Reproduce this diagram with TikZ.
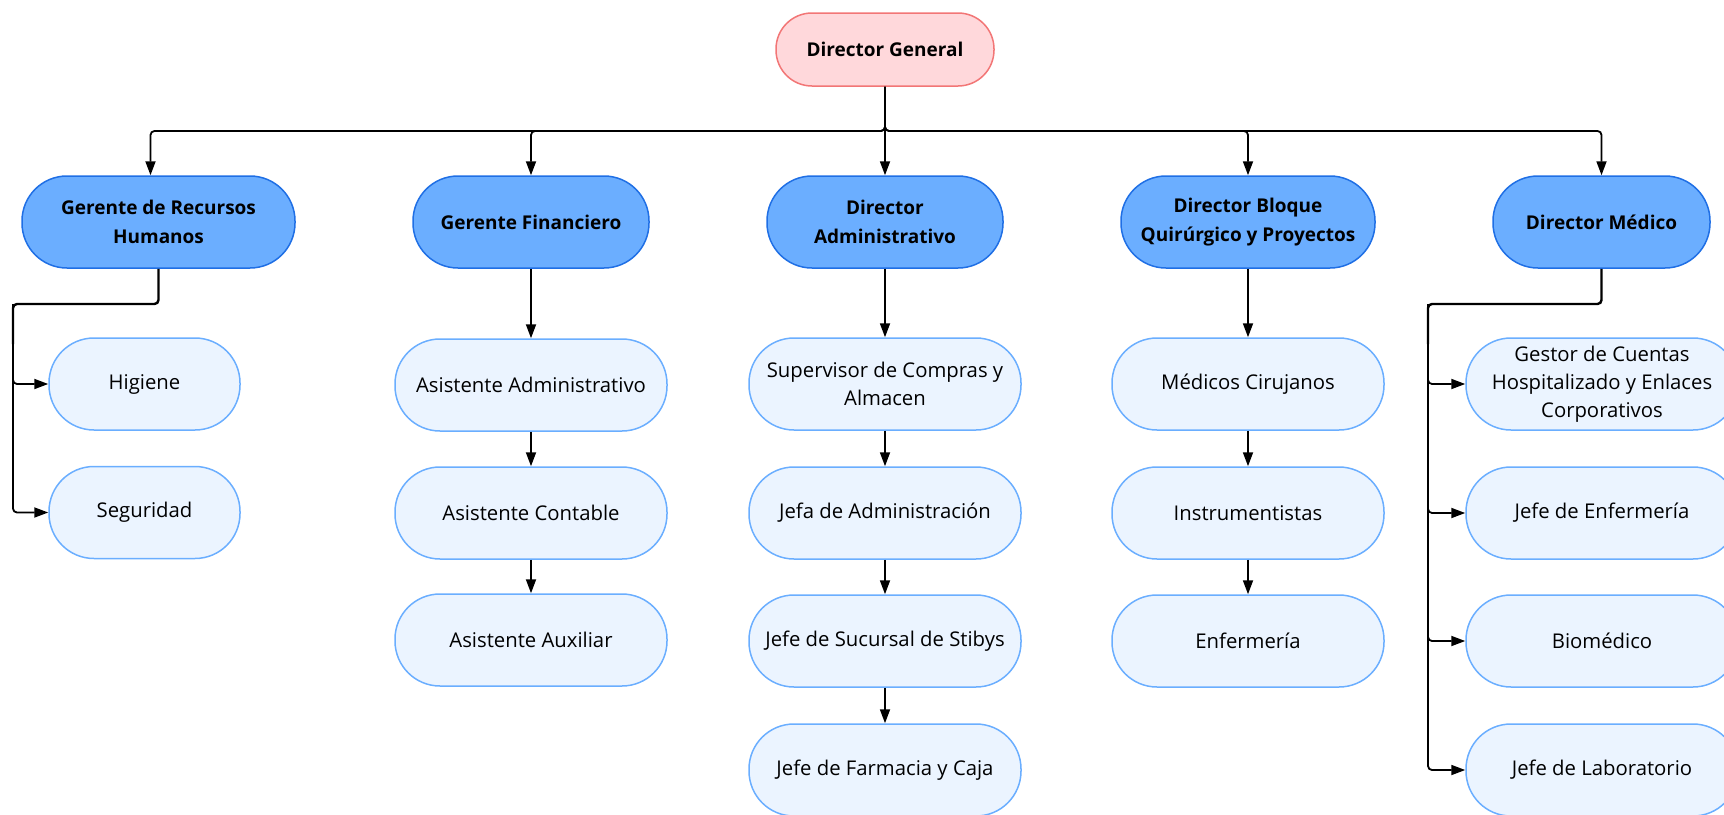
\documentclass[tikz,border=0pt]{standalone}
\usepackage{fontspec}
\setmainfont{Open Sans}
\usepackage{tikz}
\usetikzlibrary{arrows.meta}
\usetikzlibrary{calc}

\definecolor{rosaborde}{HTML}{F27676}
\definecolor{rosafondo}{HTML}{FFD8DB}
\definecolor{azulborde}{HTML}{1F6FE5}
\definecolor{azulfondo}{HTML}{6BAEFF}
\definecolor{celesteborde}{HTML}{6AAEFF}
\definecolor{celestefondo}{HTML}{EBF4FF}

\begin{document}
\begin{tikzpicture}[x=1pt,y=-1pt,
  director/.style={draw=rosaborde,fill=rosafondo,line width=1.5pt,rounded corners=36pt,
     minimum width=218pt,minimum height=73pt,inner sep=0pt,align=center,
     font=\fontsize{19}{29}\selectfont\bfseries},
  gerente/.style={draw=azulborde,fill=azulfondo,line width=1.5pt,rounded corners=45pt,
     minimum height=92pt,inner sep=0pt,align=center,
     font=\fontsize{19}{29}\selectfont\bfseries},
  puesto/.style={draw=celesteborde,fill=celestefondo,line width=1.5pt,rounded corners=45pt,
     minimum width=272pt,minimum height=92pt,inner sep=0pt,align=center,
     font=\fontsize{20.3}{28}\selectfont},
  link/.style={line width=1.8pt,rounded corners=4pt,-{Triangle[length=14pt,width=10pt]}}]
\useasboundingbox (0,0) rectangle (1724,814);

%% director general
\node[director] (dg) at (885,49.5) {Director General};

%% gerencias
\node[gerente,minimum width=273pt] (hr) at (158.5,222) {Gerente de Recursos\\Humanos};
\node[gerente,minimum width=236pt] (gf) at (531,222) {Gerente Financiero};
\node[gerente,minimum width=236pt] (da) at (885,222) {Director\\Administrativo};
\node[gerente,minimum width=254pt] (db) at (1248,222) {Director Bloque\\Quirúrgico y Proyectos};
\node[gerente,minimum width=217pt] (dm) at (1601.5,222) {Director Médico};

%% recursos humanos
\node[puesto,minimum width=191pt] (hig) at (144.5,384) {Higiene};
\node[puesto,minimum width=191pt] (seg) at (144.5,512.5) {Seguridad};

%% financiero
\node[puesto] (aadm) at (531,385) {Asistente Administrativo};
\node[puesto] (acon) at (531,513) {Asistente Contable};
\node[puesto] (aaux) at (531,640) {Asistente Auxiliar};

%% administrativo
\node[puesto] (sup) at (885,384) {Supervisor de Compras y\\Almacen};
\node[puesto] (jadm) at (885,513) {Jefa de Administración};
\node[puesto] (jsuc) at (885,641) {Jefe de Sucursal de Stibys};
\node[puesto] (jfar) at (885,770) {Jefe de Farmacia y Caja};

%% bloque quirurgico
\node[puesto] (mcir) at (1248,384) {Médicos Cirujanos};
\node[puesto] (inst) at (1248,513) {Instrumentistas};
\node[puesto] (enf) at (1248,641) {Enfermería};

%% medico
\node[puesto] (gcta) at (1602,384) {Gestor de Cuentas\\Hospitalizado y Enlaces\\Corporativos};
\node[puesto] (jenf) at (1602,513) {Jefe de Enfermería};
\node[puesto] (bio) at (1602,641) {Biomédico};
\node[puesto] (jlab) at (1602,770) {Jefe de Laboratorio};

\coordinate (bus) at (885,131);
\coordinate (hrl) at (13,304);
\coordinate (dml) at (1428,304);

%% conexiones
\draw[link] (dg.south) |- ([xshift=-8pt]hr.north |- bus) -- ([xshift=-8pt]hr.north);
\foreach \n in {gf,db,dm}
    \draw[link] (dg.south) |- (\n.north |- bus) -- (\n.north);
\draw[link] (dg.south) -- (da.north);

\draw[link,-,line width=2.4pt] (hr.south) |- (hrl) -- ($(hrl)!0.5!(hrl |- hig.west)$);
\foreach \n in {hig,seg}
    \draw[link] (hrl) |- (\n.west);
\draw[link,-,line width=2.4pt] (dm.south) |- (dml) -- ($(dml)!0.5!(dml |- gcta.west)$);
\foreach \n in {gcta,jenf,bio,jlab}
    \draw[link] (dml) |- (\n.west);

\draw[link] (gf) -- (aadm);
\draw[link] (aadm) -- (acon);
\draw[link] (acon) -- (aaux);
\draw[link] (da) -- (sup);
\draw[link] (sup) -- (jadm);
\draw[link] (jadm) -- (jsuc);
\draw[link] (jsuc) -- (jfar);
\draw[link] (db) -- (mcir);
\draw[link] (mcir) -- (inst);
\draw[link] (inst) -- (enf);
\end{tikzpicture}
\end{document}
